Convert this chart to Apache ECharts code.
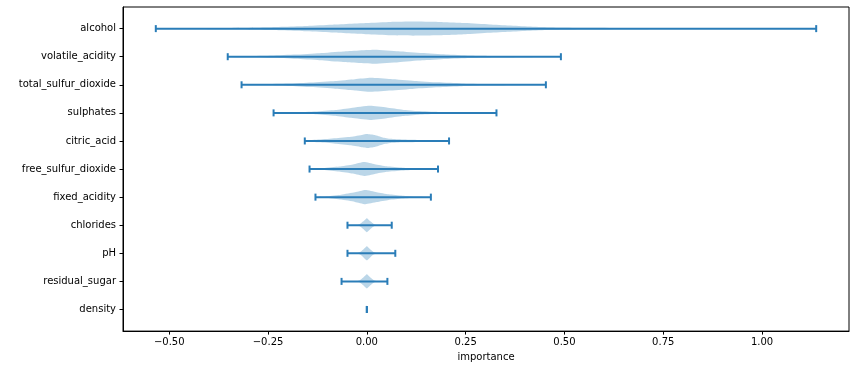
<!DOCTYPE html>
<html>
<head>
<meta charset="utf-8">
<script src="https://cdn.jsdelivr.net/npm/echarts@6/dist/echarts.min.js"></script>
<style>html,body{margin:0;padding:0;background:#fff}#c{width:856px;height:367px}</style>
</head>
<body>
<div id="c"></div>
<script>
// Feature names, top to bottom
const features = ["alcohol","volatile_acidity","total_sulfur_dioxide","sulphates","citric_acid","free_sulfur_dioxide","fixed_acidity","chlorides","pH","residual_sugar","density"];
// Extremes (caps) of each distribution
const mins = [-0.534,-0.352,-0.317,-0.236,-0.157,-0.145,-0.130,-0.049,-0.049,-0.064,0.0];
const maxs = [1.137,0.491,0.453,0.328,0.208,0.180,0.162,0.063,0.072,0.052,0.0];
// Violin outlines: [importance, relative half-width]
const alcoholProfile = [[-0.534,0.04],[-0.45,0.06],[-0.35,0.1],[-0.25,0.2],[-0.15,0.38],[-0.09,0.55],[0.0,0.8],[0.06,0.95],[0.117,1.0],[0.18,0.95],[0.25,0.8],[0.31,0.6],[0.36,0.45],[0.41,0.3],[0.46,0.2],[0.55,0.12],[0.7,0.08],[0.9,0.06],[1.137,0.04]];
const volatileProfile = [[-0.352,0.04],[-0.30,0.08],[-0.24,0.16],[-0.18,0.3],[-0.12,0.5],[-0.06,0.75],[0.02,1.0],[0.08,0.78],[0.14,0.52],[0.2,0.32],[0.26,0.18],[0.33,0.1],[0.41,0.06],[0.491,0.04]];
const totalSulfurProfile = [[-0.317,0.04],[-0.26,0.08],[-0.20,0.17],[-0.14,0.33],[-0.08,0.55],[-0.03,0.8],[0.01,1.0],[0.06,0.82],[0.12,0.55],[0.18,0.35],[0.24,0.2],[0.30,0.11],[0.38,0.06],[0.453,0.04]];
const sulphatesProfile = [[-0.236,0.03],[-0.18,0.07],[-0.13,0.18],[-0.08,0.4],[-0.04,0.7],[0.008,1.0],[0.05,0.75],[0.09,0.45],[0.13,0.25],[0.18,0.12],[0.24,0.06],[0.328,0.03]];
const citricProfile = [[-0.157,0.08],[-0.12,0.2],[-0.08,0.38],[-0.04,0.6],[-0.01,0.9],[0.0,1.0],[0.02,0.85],[0.04,0.5],[0.06,0.3],[0.09,0.2],[0.13,0.14],[0.17,0.1],[0.208,0.06]];
const freeSulfurProfile = [[-0.145,0.04],[-0.11,0.12],[-0.07,0.35],[-0.035,0.65],[-0.007,1.0],[0.02,0.7],[0.05,0.4],[0.09,0.2],[0.13,0.1],[0.18,0.04]];
const fixedProfile = [[-0.13,0.04],[-0.1,0.12],[-0.065,0.35],[-0.03,0.68],[-0.004,1.0],[0.025,0.7],[0.055,0.4],[0.09,0.2],[0.125,0.09],[0.162,0.04]];
const chloridesProfile = [[-0.049,0.01],[-0.025,0.03],[-0.018,0.15],[-0.009,0.55],[0.0,1.0],[0.009,0.55],[0.018,0.15],[0.025,0.03],[0.063,0.01]];
const phProfile = [[-0.049,0.01],[-0.025,0.03],[-0.018,0.15],[-0.009,0.55],[0.0,1.0],[0.009,0.55],[0.018,0.15],[0.025,0.03],[0.072,0.01]];
const residualProfile = [[-0.064,0.01],[-0.025,0.03],[-0.018,0.15],[-0.009,0.55],[0.0,1.0],[0.009,0.55],[0.018,0.15],[0.025,0.03],[0.052,0.01]];
const densityProfile = [];
const profiles = [alcoholProfile,volatileProfile,totalSulfurProfile,sulphatesProfile,citricProfile,freeSulfurProfile,fixedProfile,chloridesProfile,phProfile,residualProfile,densityProfile];
// Tick labels
const xTicks = [-0.5,-0.25,0,0.25,0.5,0.75,1.0];
const yTicks = features.map((f,i)=>i);

const HALF = 0.25;   // violin half-width in category units
const CAP = 0.125;   // cap half-length in category units
const lineColor = '#2a7db8';
const fillColor = 'rgba(31,119,180,0.3)';

const chart = echarts.init(document.getElementById('c'), null, {renderer:'canvas'});
chart.setOption({
  animation:false,
  backgroundColor:'#fff',
  grid:{left:123,right:7,top:7,bottom:34,show:true,borderColor:'#000',borderWidth:1,backgroundColor:'transparent'},
  xAxis:{
    type:'value', min:-0.617, max:1.22,
    name:'importance', nameLocation:'middle', nameGap:19,
    nameTextStyle:{fontFamily:'DejaVu Sans',fontSize:10,color:'#000'},
    axisLine:{show:true,onZero:false,lineStyle:{color:'#000',width:1}},
    axisTick:{show:true,length:3.5,customValues:xTicks,lineStyle:{color:'#000',width:1}},
    axisLabel:{customValues:xTicks,margin:6,fontFamily:'DejaVu Sans',fontSize:10,color:'#000',
      formatter:v=>v.toFixed(2).replace('-','\u2212')},
    splitLine:{show:false}
  },
  yAxis:{
    type:'value', inverse:true, min:-0.77, max:10.77,
    axisLine:{show:true,onZero:false,lineStyle:{color:'#000',width:1}},
    axisTick:{show:true,length:3.5,customValues:yTicks,lineStyle:{color:'#000',width:1}},
    axisLabel:{customValues:yTicks,margin:7,fontFamily:'DejaVu Sans',fontSize:10,color:'#000',
      formatter:v=>features[Math.round(v)]},
    splitLine:{show:false}
  },
  series:[{
    type:'custom',
    data:yTicks,
    clip:false,
    renderItem:function(params, api){
      const i = params.dataIndex;
      const prof = profiles[i];
      const children = [];
      if (prof.length){
        const upper = prof.map(p=>api.coord([p[0], i - p[1]*HALF]));
        const lower = prof.slice().reverse().map(p=>api.coord([p[0], i + p[1]*HALF]));
        children.push({type:'polygon',shape:{points:upper.concat(lower),smooth:0.15},style:{fill:fillColor,stroke:null}});
      }
      const a = api.coord([mins[i], i]);
      const b = api.coord([maxs[i], i]);
      const ls = {stroke:lineColor,lineWidth:2};
      if (b[0] - a[0] > 0.5) children.push({type:'line',shape:{x1:a[0],y1:a[1],x2:b[0],y2:b[1]},style:ls});
      const c1 = api.coord([mins[i], i-CAP]), c2 = api.coord([mins[i], i+CAP]);
      children.push({type:'line',shape:{x1:c1[0],y1:c1[1],x2:c2[0],y2:c2[1]},style:ls});
      const d1 = api.coord([maxs[i], i-CAP]), d2 = api.coord([maxs[i], i+CAP]);
      children.push({type:'line',shape:{x1:d1[0],y1:d1[1],x2:d2[0],y2:d2[1]},style:ls});
      return {type:'group',children:children};
    }
  }]
});
</script>
</body>
</html>
